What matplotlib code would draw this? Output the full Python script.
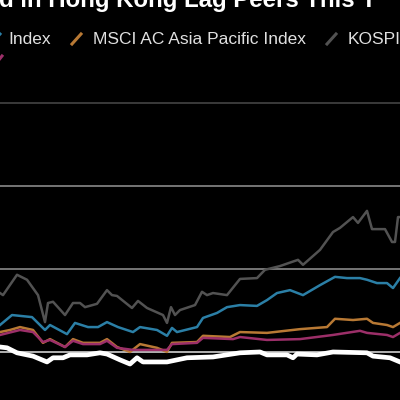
import numpy as np
import matplotlib
matplotlib.use('Agg')
import matplotlib.pyplot as plt
from matplotlib.lines import Line2D

# Trading-day position and % change since start of year
kospi_x = [0, 3, 17, 27, 38, 45, 48, 53, 65, 73, 80, 85, 97, 107, 112, 117, 132, 138, 147, 163,
           167, 171, 175, 180, 195, 202, 207, 213, 227, 240, 257, 265, 280, 298, 303, 320, 333, 340,
           353, 358, 367, 372, 385, 392, 395, 398, 400]
kospi_y = [14.2, 13.7, 18.6, 17.4, 13.7, 7.2, 11.8, 12.1, 8.9, 11.8, 11.8, 10.8, 11.6, 14.9, 13.7,
           13.5, 10.6, 12.3, 10.6, 8.9, 7.0, 10.8, 8.9, 10.1, 11.3, 14.5, 13.7, 14.2, 13.7, 17.6, 17.8,
           19.8, 20.7, 22.2, 21.0, 24.6, 28.9, 29.9, 32.5, 31.1, 34.0, 29.6, 29.6, 26.5, 26.5, 32.5, 32.5]

blue_x = [0, 12, 32, 45, 50, 67, 75, 88, 98, 107, 118, 133, 140, 157, 167, 172, 177, 197, 203, 217,
          227, 240, 257, 267, 277, 290, 303, 320, 335, 347, 360, 367, 377, 387, 393, 400]
blue_y = [6.5, 8.9, 8.4, 5.3, 6.5, 4.3, 7.0, 6.0, 6.0, 7.2, 6.0, 4.8, 6.0, 5.3, 3.9, 5.8, 4.8, 6.0,
          8.2, 9.4, 10.8, 11.3, 11.1, 12.5, 14.2, 14.9, 13.7, 16.1, 18.1, 17.8, 17.8, 17.4, 16.6,
          16.6, 15.4, 17.8]

apac_x = [0, 10, 20, 33, 43, 50, 65, 73, 83, 100, 107, 117, 130, 140, 157, 167, 172, 197, 203, 230,
          240, 267, 300, 327, 335, 353, 367, 373, 387, 393, 400]
apac_y = [4.8, 5.3, 6.0, 5.3, 2.2, 3.1, 1.2, 3.1, 2.2, 2.2, 3.1, 1.2, 0.0, 1.9, 1.0, 0.0, 2.2, 2.4,
          3.9, 3.6, 4.8, 4.6, 5.5, 6.0, 8.0, 7.7, 8.0, 7.0, 6.5, 6.0, 7.0]

mag_x = [0, 20, 33, 43, 50, 65, 73, 83, 100, 107, 117, 133, 150, 167, 172, 197, 203, 233, 240, 267,
         300, 333, 360, 367, 387, 393, 400]
mag_y = [4.1, 5.3, 4.8, 2.4, 2.9, 1.2, 2.7, 1.9, 1.9, 2.7, 1.0, 0.5, 0.5, 0.5, 1.9, 2.2, 3.4, 3.1,
         3.6, 2.9, 3.1, 4.1, 5.1, 4.6, 4.1, 3.6, 4.6]

hk_x = [0, 7, 17, 33, 47, 53, 63, 70, 87, 100, 107, 120, 130, 137, 143, 157, 167, 187, 213, 240,
        260, 267, 287, 293, 297, 317, 333, 367, 373, 390, 400]
hk_y = [1.2, 1.0, -0.2, -1.0, -2.4, -1.4, -1.4, -0.7, -0.7, -0.2, -0.5, -1.9, -2.9, -1.4, -2.4, -2.4,
        -2.4, -1.4, -1.2, -0.2, 0.0, -0.7, -0.7, -1.4, -0.5, -0.7, 0.0, -0.2, -1.0, -1.4, -2.4]

grid_levels = [0, 20, 40, 60]
grid_colors = ['#d0d0d0', '#8a8a8a', '#8a8a8a', '#444444']

fig = plt.figure(figsize=(4, 4), dpi=100, facecolor='black')
ax = fig.add_axes([0, 0, 1, 1], facecolor='black')

for lvl, col in zip(grid_levels, grid_colors):
    ax.axhline(lvl, color=col, lw=1.2, zorder=1)

ax.plot(kospi_x, kospi_y, color='#525252', lw=1.8, zorder=3)
ax.plot(blue_x, blue_y, color='#2b7fa6', lw=1.8, zorder=3)
ax.plot(apac_x, apac_y, color='#b87934', lw=1.8, zorder=3)
ax.plot(mag_x, mag_y, color='#9c2f69', lw=1.8, zorder=3)
ax.plot(hk_x, hk_y, color='white', lw=3.4, zorder=4, solid_joinstyle='round')

ax.set_xlim(0, 400)
ax.set_ylim(-11.57, 84.8)
ax.axis('off')

# title (cut off by the crop, as in the reference)
fig.text(-0.003, 1 - 7 / 400, 'd in Hong Kong Lag Peers This Y', color='white',
         fontsize=17.3, fontweight='bold', family='Liberation Sans', va='baseline', ha='left')

# legend row
ly = 1 - 44 / 400
fig.text(8 / 400, ly, 'Index', color='#e0e0e0', fontsize=12.5, family='Liberation Sans', va='baseline')
fig.text(93 / 400, ly, 'MSCI AC Asia Pacific Index', color='#e0e0e0', fontsize=12.5,
         family='Liberation Sans', va='baseline')
fig.text(348 / 400, ly, 'KOSPI', color='#e0e0e0', fontsize=12.5, family='Liberation Sans', va='baseline')

for x0, col in [(-9, '#2b7fa6'), (72, '#b87934'), (327, '#525252')]:
    fig.add_artist(Line2D([x0 / 400, (x0 + 9) / 400], [1 - 44 / 400, 1 - 34 / 400],
                          color=col, lw=2.2, transform=fig.transFigure))
fig.add_artist(Line2D([-6 / 400, 2 / 400], [1 - 66 / 400, 1 - 56 / 400],
                      color='#9c2f69', lw=2.2, transform=fig.transFigure))

fig.savefig('out.png', dpi=100, facecolor='black')
